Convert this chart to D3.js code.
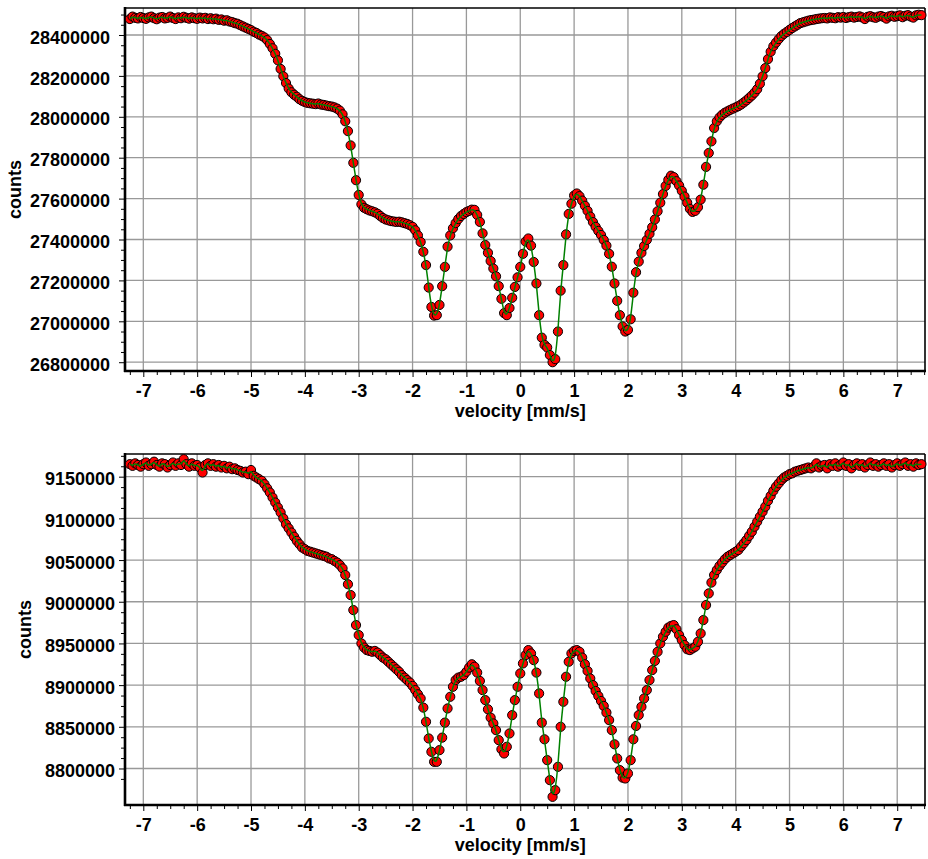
<!DOCTYPE html>
<html>
<head>
<meta charset="utf-8">
<script src="https://cdn.jsdelivr.net/npm/d3@7"></script>
<style>
    body { margin: 0; background: #fff; }
    text { font-family: "Liberation Sans", Arial, sans-serif; font-weight: bold; fill: #000; }
</style>
</head>
<body>
<svg id="chart" width="928" height="859"></svg>
<script>
// velocity channels [mm/s], shared by both spectra
const velocity = [
    -7.25, -7.2, -7.15, -7.1, -7.05, -7, -6.95, -6.9, -6.85, -6.8,
    -6.75, -6.7, -6.65, -6.6, -6.55, -6.5, -6.45, -6.4, -6.35, -6.3,
    -6.25, -6.2, -6.15, -6.1, -6.05, -6, -5.95, -5.9, -5.85, -5.8,
    -5.75, -5.7, -5.65, -5.6, -5.55, -5.5, -5.45, -5.4, -5.35, -5.3,
    -5.25, -5.2, -5.15, -5.1, -5.05, -5, -4.95, -4.9, -4.85, -4.8,
    -4.75, -4.7, -4.65, -4.6, -4.55, -4.5, -4.45, -4.4, -4.35, -4.3,
    -4.25, -4.2, -4.15, -4.1, -4.05, -4, -3.95, -3.9, -3.85, -3.8,
    -3.75, -3.7, -3.65, -3.6, -3.55, -3.5, -3.45, -3.4, -3.35, -3.3,
    -3.25, -3.2, -3.15, -3.1, -3.05, -3, -2.95, -2.9, -2.85, -2.8,
    -2.75, -2.7, -2.65, -2.6, -2.55, -2.5, -2.45, -2.4, -2.35, -2.3,
    -2.25, -2.2, -2.15, -2.1, -2.05, -2, -1.95, -1.9, -1.85, -1.8,
    -1.75, -1.7, -1.65, -1.6, -1.55, -1.5, -1.45, -1.4, -1.35, -1.3,
    -1.25, -1.2, -1.15, -1.1, -1.05, -1, -0.95, -0.9, -0.85, -0.8,
    -0.75, -0.7, -0.65, -0.6, -0.55, -0.5, -0.45, -0.4, -0.35, -0.3,
    -0.25, -0.2, -0.15, -0.1, -0.05, 0, 0.05, 0.1, 0.15, 0.2,
    0.25, 0.3, 0.35, 0.4, 0.45, 0.5, 0.55, 0.6, 0.65, 0.7,
    0.75, 0.8, 0.85, 0.9, 0.95, 1, 1.05, 1.1, 1.15, 1.2,
    1.25, 1.3, 1.35, 1.4, 1.45, 1.5, 1.55, 1.6, 1.65, 1.7,
    1.75, 1.8, 1.85, 1.9, 1.95, 2, 2.05, 2.1, 2.15, 2.2,
    2.25, 2.3, 2.35, 2.4, 2.45, 2.5, 2.55, 2.6, 2.65, 2.7,
    2.75, 2.8, 2.85, 2.9, 2.95, 3, 3.05, 3.1, 3.15, 3.2,
    3.25, 3.3, 3.35, 3.4, 3.45, 3.5, 3.55, 3.6, 3.65, 3.7,
    3.75, 3.8, 3.85, 3.9, 3.95, 4, 4.05, 4.1, 4.15, 4.2,
    4.25, 4.3, 4.35, 4.4, 4.45, 4.5, 4.55, 4.6, 4.65, 4.7,
    4.75, 4.8, 4.85, 4.9, 4.95, 5, 5.05, 5.1, 5.15, 5.2,
    5.25, 5.3, 5.35, 5.4, 5.45, 5.5, 5.55, 5.6, 5.65, 5.7,
    5.75, 5.8, 5.85, 5.9, 5.95, 6, 6.05, 6.1, 6.15, 6.2,
    6.25, 6.3, 6.35, 6.4, 6.45, 6.5, 6.55, 6.6, 6.65, 6.7,
    6.75, 6.8, 6.85, 6.9, 6.95, 7, 7.05, 7.1, 7.15, 7.2,
    7.25, 7.3, 7.35, 7.4, 7.45,
];

// upper spectrum
const countsTop = [
    28478000, 28490000, 28484000, 28481000, 28488000, 28483000, 28479000, 28486000, 28490000, 28482000,
    28477000, 28485000, 28488000, 28481000, 28484000, 28490000, 28483000, 28478000, 28486000, 28482000,
    28489000, 28484000, 28480000, 28486000, 28482000, 28479000, 28485000, 28481000, 28484000, 28478000,
    28482000, 28477000, 28480000, 28474000, 28476000, 28470000, 28472000, 28466000, 28463000, 28458000,
    28455000, 28448000, 28442000, 28436000, 28430000, 28424000, 28416000, 28410000, 28402000, 28396000,
    28388000, 28375000, 28356000, 28335000, 28308000, 28276000, 28234000, 28198000, 28165000, 28138000,
    28120000, 28108000, 28098000, 28086000, 28078000, 28072000, 28068000, 28066000, 28064000, 28062000,
    28065000, 28060000, 28058000, 28055000, 28052000, 28050000, 28046000, 28040000, 28030000, 28012000,
    27978000, 27930000, 27860000, 27775000, 27690000, 27618000, 27572000, 27555000, 27548000, 27542000,
    27538000, 27533000, 27526000, 27515000, 27505000, 27498000, 27494000, 27490000, 27488000, 27486000,
    27487000, 27484000, 27480000, 27476000, 27470000, 27462000, 27445000, 27420000, 27388000, 27340000,
    27275000, 27165000, 27070000, 27028000, 27030000, 27080000, 27172000, 27266000, 27365000, 27420000,
    27455000, 27480000, 27500000, 27515000, 27525000, 27534000, 27540000, 27546000, 27545000, 27520000,
    27486000, 27430000, 27373000, 27335000, 27295000, 27258000, 27220000, 27172000, 27110000, 27040000,
    27030000, 27065000, 27115000, 27168000, 27215000, 27266000, 27330000, 27390000, 27405000, 27370000,
    27290000, 27185000, 27030000, 26920000, 26885000, 26872000, 26835000, 26800000, 26815000, 26950000,
    27150000, 27275000, 27425000, 27525000, 27575000, 27615000, 27625000, 27612000, 27590000, 27565000,
    27540000, 27512000, 27485000, 27462000, 27442000, 27422000, 27398000, 27370000, 27330000, 27267000,
    27185000, 27100000, 27030000, 26975000, 26950000, 26958000, 27010000, 27140000, 27240000, 27292000,
    27335000, 27368000, 27398000, 27428000, 27460000, 27498000, 27538000, 27580000, 27622000, 27662000,
    27692000, 27712000, 27705000, 27685000, 27664000, 27638000, 27610000, 27580000, 27550000, 27535000,
    27540000, 27558000, 27595000, 27668000, 27755000, 27823000, 27880000, 27945000, 27978000, 27997000,
    28010000, 28020000, 28027000, 28034000, 28040000, 28046000, 28052000, 28060000, 28070000, 28080000,
    28092000, 28104000, 28118000, 28135000, 28162000, 28198000, 28238000, 28282000, 28318000, 28345000,
    28363000, 28380000, 28395000, 28406000, 28415000, 28425000, 28434000, 28442000, 28450000, 28458000,
    28462000, 28466000, 28470000, 28473000, 28475000, 28478000, 28480000, 28482000, 28483000, 28481000,
    28486000, 28484000, 28482000, 28487000, 28485000, 28488000, 28483000, 28487000, 28490000, 28485000,
    28488000, 28491000, 28486000, 28478000, 28489000, 28492000, 28487000, 28484000, 28490000, 28493000,
    28488000, 28480000, 28491000, 28494000, 28489000, 28492000, 28496000, 28487000, 28494000, 28497000,
    28490000, 28485000, 28496000, 28499000, 28497000,
];

// lower spectrum
const countsBottom = [
    9165000, 9163000, 9166000, 9164000, 9162000, 9165000, 9167000, 9163000, 9165000, 9168000,
    9164000, 9162000, 9166000, 9165000, 9161000, 9164000, 9167000, 9163000, 9166000, 9164000,
    9171000, 9165000, 9162000, 9166000, 9163000, 9164000, 9161000, 9155000, 9164000, 9166000,
    9163000, 9165000, 9162000, 9164000, 9161000, 9163000, 9160000, 9162000, 9159000, 9160000,
    9158000, 9157000, 9155000, 9156000, 9153000, 9158000, 9151000, 9149000, 9147000, 9145000,
    9141000, 9136000, 9131000, 9125000, 9119000, 9113000, 9107000, 9100000, 9093000, 9088000,
    9083000, 9078000, 9073000, 9069000, 9065000, 9063000, 9061000, 9060000, 9059000, 9058000,
    9057000, 9056000, 9055000, 9054000, 9052000, 9051000, 9049000, 9047000, 9044000, 9040000,
    9032000, 9021000, 9008000, 8990000, 8972000, 8960000, 8950000, 8945000, 8942000, 8941000,
    8940000, 8941000, 8939000, 8936000, 8933000, 8931000, 8928000, 8925000, 8922000, 8919000,
    8916000, 8912000, 8909000, 8906000, 8903000, 8899000, 8894000, 8889000, 8884000, 8873000,
    8856000, 8836000, 8820000, 8808000, 8808000, 8822000, 8837000, 8855000, 8872000, 8886000,
    8898000, 8906000, 8909000, 8910000, 8912000, 8916000, 8921000, 8925000, 8922000, 8915000,
    8905000, 8894000, 8882000, 8871000, 8861000, 8854000, 8846000, 8834000, 8823000, 8818000,
    8826000, 8842000, 8864000, 8882000, 8898000, 8914000, 8926000, 8936000, 8942000, 8938000,
    8930000, 8915000, 8890000, 8855000, 8835000, 8810000, 8786000, 8766000, 8774000, 8802000,
    8850000, 8880000, 8910000, 8928000, 8938000, 8941000, 8942000, 8940000, 8933000, 8925000,
    8917000, 8908000, 8900000, 8893000, 8887000, 8881000, 8875000, 8867000, 8858000, 8846000,
    8829000, 8812000, 8798000, 8789000, 8788000, 8794000, 8810000, 8835000, 8851000, 8864000,
    8874000, 8884000, 8894000, 8906000, 8918000, 8929000, 8940000, 8950000, 8958000, 8964000,
    8969000, 8971000, 8972000, 8967000, 8960000, 8954000, 8948000, 8943000, 8942000, 8944000,
    8946000, 8952000, 8962000, 8978000, 8996000, 9010000, 9023000, 9032000, 9038000, 9043000,
    9047000, 9051000, 9054000, 9056000, 9058000, 9060000, 9062000, 9066000, 9070000, 9074000,
    9079000, 9084000, 9090000, 9096000, 9102000, 9108000, 9114000, 9121000, 9127000, 9133000,
    9138000, 9142000, 9146000, 9149000, 9151000, 9153000, 9154000, 9156000, 9157000, 9158000,
    9159000, 9160000, 9161000, 9160000, 9162000, 9166000, 9161000, 9163000, 9164000, 9160000,
    9165000, 9163000, 9166000, 9162000, 9164000, 9167000, 9163000, 9165000, 9160000, 9164000,
    9166000, 9163000, 9165000, 9161000, 9164000, 9167000, 9163000, 9165000, 9162000, 9164000,
    9166000, 9163000, 9165000, 9161000, 9164000, 9166000, 9163000, 9165000, 9167000, 9163000,
    9165000, 9162000, 9166000, 9164000, 9165000,
];

const velocityTicks = [-7, -6, -5, -4, -3, -2, -1, 0, 1, 2, 3, 4, 5, 6, 7];
const countTicksTop = [26800000, 27000000, 27200000, 27400000, 27600000, 27800000, 28000000, 28200000, 28400000];
const countTicksBottom = [8800000, 8850000, 8900000, 8950000, 9000000, 9050000, 9100000, 9150000];

const svg = d3.select("#chart");
const left = 125, right = 925;

const x = d3.scaleLinear().domain([-7.34, 7.516]).range([left, right]);

function drawPanel(p) {
    const y = d3.scaleLinear().domain(p.domain).range([p.bottom, p.top]);
    const g = svg.append("g");

    // grid
    g.append("g").selectAll("line").data(velocityTicks).join("line")
        .attr("x1", d => x(d)).attr("x2", d => x(d))
        .attr("y1", p.top).attr("y2", p.bottom)
        .attr("stroke", "#999").attr("stroke-width", 1.3);
    g.append("g").selectAll("line").data(p.ticks).join("line")
        .attr("x1", left).attr("x2", right)
        .attr("y1", d => y(d)).attr("y2", d => y(d))
        .attr("stroke", "#999").attr("stroke-width", 1.3);

    // minor ticks
    const xMinor = d3.range(-7.25, 7.51, 0.25).filter(v => Math.abs(v - Math.round(v)) > 0.01);
    g.append("g").attr("transform", `translate(0,${p.bottom})`)
        .call(d3.axisBottom(x).tickValues(xMinor).tickSize(4).tickFormat(""))
        .call(a => a.select(".domain").remove());
    const yMinor = d3.range(p.ticks[0] - p.minor, p.domain[1], p.minor)
        .filter(v => v > p.domain[0] && !p.ticks.includes(v));
    g.append("g").attr("transform", `translate(${left},0)`)
        .call(d3.axisLeft(y).tickValues(yMinor).tickSize(4).tickFormat(""))
        .call(a => a.select(".domain").remove());

    // major ticks + labels
    const xa = g.append("g").attr("transform", `translate(0,${p.bottom})`)
        .call(d3.axisBottom(x).tickValues(velocityTicks).tickSize(6).tickFormat(d => String(d)));
    xa.select(".domain").remove();
    xa.selectAll("text").attr("y", 26).attr("dy", null)
        .style("font-size", "18px").style("font-family", "Liberation Sans, Arial, sans-serif")
        .style("font-weight", "bold");

    const ya = g.append("g").attr("transform", `translate(${left},0)`)
        .call(d3.axisLeft(y).tickValues(p.ticks).tickSize(6).tickPadding(p.labelGap).tickFormat(d => String(d)));
    ya.select(".domain").remove();
    ya.selectAll("text").attr("dy", "0.45em")
        .style("font-size", "18px").style("font-family", "Liberation Sans, Arial, sans-serif")
        .style("font-weight", "bold");
    g.selectAll(".tick line").attr("stroke", "#000");

    // frame
    g.append("line").attr("x1", left).attr("x2", right).attr("y1", p.top).attr("y2", p.top)
        .attr("stroke", "#000").attr("stroke-width", 1.6);
    g.append("line").attr("x1", right).attr("x2", right).attr("y1", p.top).attr("y2", p.bottom)
        .attr("stroke", "#000").attr("stroke-width", 1.6);
    g.append("line").attr("x1", left).attr("x2", left).attr("y1", p.top - 1).attr("y2", p.bottom + 1)
        .attr("stroke", "#000").attr("stroke-width", 2.6);
    g.append("line").attr("x1", left - 1).attr("x2", right + 1).attr("y1", p.bottom).attr("y2", p.bottom)
        .attr("stroke", "#000").attr("stroke-width", 2.6);

    // measured points
    g.append("g").selectAll("circle").data(velocity).join("circle")
        .attr("cx", d => x(d))
        .attr("cy", (d, i) => y(p.counts[i]))
        .attr("r", 4.6)
        .attr("fill", "#ff0000")
        .attr("stroke", "#000")
        .attr("stroke-width", 1);

    // fit curve
    const line = d3.line()
        .x(d => x(d))
        .y((d, i) => y(p.counts[i]))
        .curve(d3.curveBasis);
    g.append("path").datum(velocity)
        .attr("d", line)
        .attr("fill", "none")
        .attr("stroke", "#008000")
        .attr("stroke-width", 1.5);

    // axis titles
    g.append("text")
        .attr("x", x(0)).attr("y", p.bottom + 46)
        .attr("text-anchor", "middle")
        .style("font-size", "18px")
        .text("velocity [mm/s]");
    g.append("text")
        .attr("transform", `translate(${p.countsX},${(p.top + p.bottom) / 2}) rotate(-90)`)
        .attr("dy", "0.35em")
        .attr("text-anchor", "middle")
        .style("font-size", "18px")
        .text("counts");
}

drawPanel({
    counts: countsTop,
    ticks: countTicksTop,
    minor: 50000,
    domain: [26757000, 28532000],
    top: 8,
    bottom: 371,
    labelGap: 9,
    countsX: 15,
});

drawPanel({
    counts: countsBottom,
    ticks: countTicksBottom,
    minor: 12500,
    domain: [8756200, 9177200],
    top: 454,
    bottom: 805,
    labelGap: 4,
    countsX: 25,
});
</script>
</body>
</html>
